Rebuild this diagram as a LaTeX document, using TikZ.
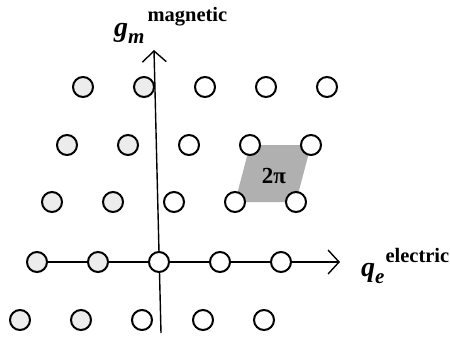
\documentclass[tikz,border=0pt]{standalone}
\usepackage{fontspec}
\setmainfont{Liberation Serif}
\usetikzlibrary{positioning, arrows.meta, backgrounds, calc}

\begin{document}
\begin{tikzpicture}[
    x=1pt, y=-1pt,
    site/.style={draw=black, line width=2pt, circle, minimum size=20pt, inner sep=0pt, fill=white},
    shadedsite/.style={site, fill=gray!15},
    axis/.style={line width=1.4pt, -{Straight Barb[length=11pt, width=24pt, line width=1.4pt]}},
    axlabel/.style={inner sep=0pt, anchor=base west, font=\bfseries},
    cell/.style={fill=gray!62}
  ]
  \useasboundingbox (0,0) rectangle (450,338);

  % Gitter
  \foreach \r/\y/\xs in {1/87/83, 2/145/67, 3/202/52, 4/262/37, 5/320/20} {
    \foreach \k in {0,...,4} {
      \ifnum\k<2
        \node[shadedsite] (s\r\k) at ({\xs+61*\k},\y) {};
      \else
        \node[site] (s\r\k) at ({\xs+61*\k},\y) {};
      \fi
    }
  }

  % Achsen und Zelle
  \coordinate (gbot) at (161,333);
  \coordinate (gtop) at (154,50);
  \coordinate (qtip) at (340,262);
  \begin{scope}[on background layer]
    \fill[cell] (s23.center) -- (s24.center) -- (s34.center) -- (s33.center) -- cycle;
    \draw[axis] (gbot) -- (gtop);
    \draw[axis] (s40.center) -- (qtip);
  \end{scope}
  \node[font=\fontsize{23}{23}\selectfont\bfseries, inner sep=1pt] (area) at (274,176) {2π};

  % Beschriftung
  \node[axlabel] (glab) at (114,36.5) {\fontsize{28}{28}\selectfont\textit{g}\raisebox{-6.5pt}{\fontsize{21}{21}\selectfont\textit{m}}\hspace{3pt}\raisebox{15.5pt}{\fontsize{20.5}{20.5}\selectfont magnetic}};
  \node[axlabel] (qlab) at (361,276) {\fontsize{28}{28}\selectfont\textit{q}\raisebox{-7pt}{\fontsize{21}{21}\selectfont\textit{e}}\hspace{1pt}\raisebox{14pt}{\fontsize{20.5}{20.5}\selectfont electric}};
\end{tikzpicture}
\end{document}
